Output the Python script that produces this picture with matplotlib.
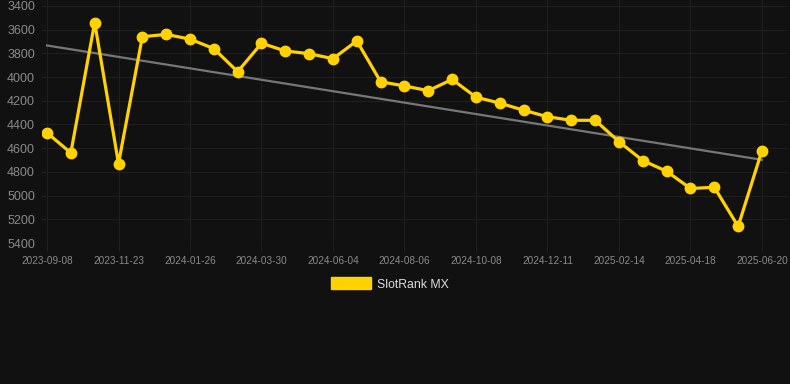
import numpy as np
import matplotlib
matplotlib.use("Agg")
import matplotlib.pyplot as plt
from matplotlib.patches import Patch

plt.rcParams['font.family'] = ['Liberation Sans', 'DejaVu Sans']

# tick labels shown every third sample
tick_dates = ["2023-09-08", "2023-11-23", "2024-01-26", "2024-03-30",
              "2024-06-04", "2024-08-06", "2024-10-08", "2024-12-11",
              "2025-02-14", "2025-04-18", "2025-06-20"]

# rank values
ranks = [4470, 4640, 3540, 4730, 3660, 3640, 3680, 3760, 3955, 3715,
         3780, 3803, 3845, 3695, 4040, 4075, 4115, 4020, 4170, 4220,
         4280, 4335, 4365, 4365, 4545, 4705, 4795, 4940, 4930, 5260,
         4620]

y_ticks = [3400, 3600, 3800, 4000, 4200, 4400, 4600, 4800, 5000, 5200, 5400]

BG = "#111111"
GRID = "#1f1f1f"
YELLOW = "#FFD200"

fig = plt.figure(figsize=(7.9, 3.84), dpi=100, facecolor=BG)
ax = fig.add_axes([42 / 790, 1 - 243 / 384, 745 / 790, 243 / 384])
ax.set_facecolor(BG)

x = np.arange(len(ranks))

# linear trend over the series
k, b = np.polyfit(x, ranks, 1)
ax.plot(x, k * x + b, color="#777777", lw=1.6, zorder=2)

ax.plot(x, ranks, color=YELLOW, lw=2.3, marker="o", markersize=7.5,
        zorder=3, solid_joinstyle="miter")

ax.set_xlim(-0.21, 31.05)
ax.set_ylim(5400, 3350)
ax.set_yticks(y_ticks)
ax.set_yticklabels([str(v) for v in y_ticks])
tick_pos = x[::3]
ax.set_xticks(tick_pos)
ax.set_xticklabels(tick_dates)

ax.grid(True, color=GRID, lw=0.8)
ax.set_axisbelow(True)
for s in ax.spines.values():
    s.set_visible(False)
ax.tick_params(axis="y", length=0, pad=5, labelsize=9, labelcolor="#8a8a8a")
ax.tick_params(axis="x", length=6, color=GRID, pad=3, labelsize=7.2,
               labelcolor="#8a8a8a")

leg = fig.legend(handles=[Patch(facecolor=YELLOW, edgecolor=YELLOW, label="SlotRank MX")],
                 loc="center", bbox_to_anchor=(390 / 790, 1 - 284 / 384),
                 frameon=False, handlelength=3.3, handleheight=1.1,
                 handletextpad=0.5, fontsize=8.8)
for t in leg.get_texts():
    t.set_color("#dddddd")

fig.savefig("out.png", dpi=100, facecolor=BG)
